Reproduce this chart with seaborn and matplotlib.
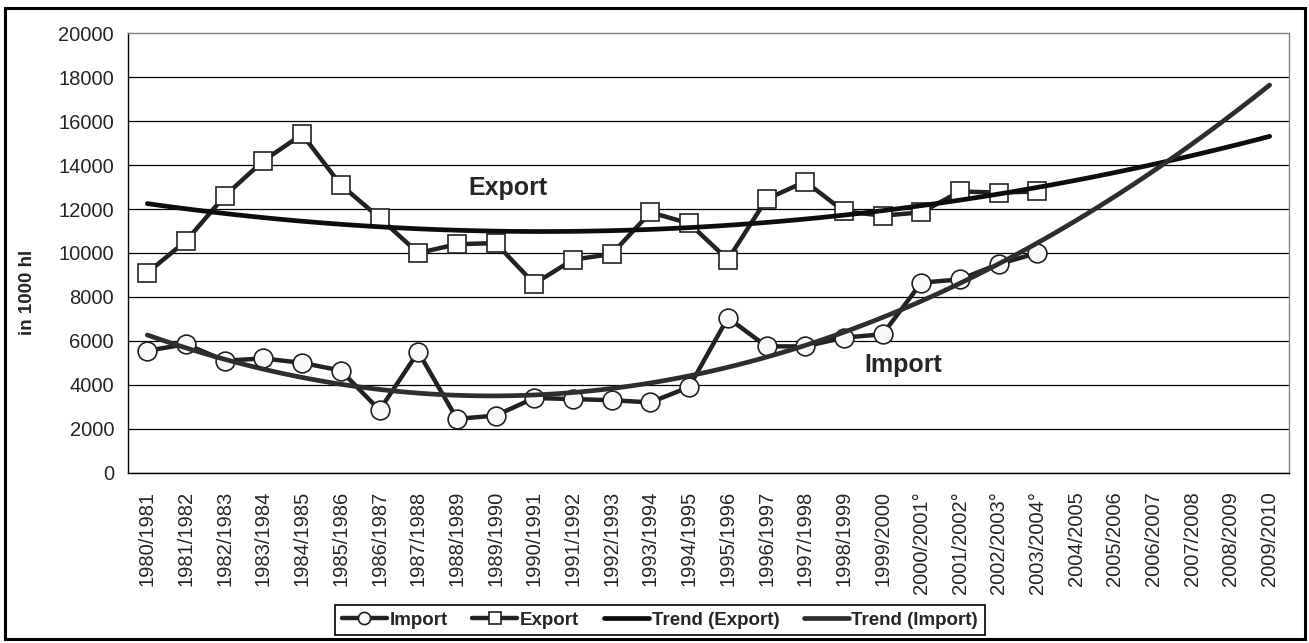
import numpy as np
import pandas as pd
import matplotlib.pyplot as plt
import seaborn as sns
from matplotlib.patches import Rectangle

seasons = ['1980/1981', '1981/1982', '1982/1983', '1983/1984', '1984/1985', '1985/1986',
           '1986/1987', '1987/1988', '1988/1989', '1989/1990', '1990/1991', '1991/1992',
           '1992/1993', '1993/1994', '1994/1995', '1995/1996', '1996/1997', '1997/1998',
           '1998/1999', '1999/2000', '2000/2001°', '2001/2002°', '2002/2003°', '2003/2004°',
           '2004/2005', '2005/2006', '2006/2007', '2007/2008', '2008/2009', '2009/2010']

# in 1000 hl, observed seasons only (1980/1981 - 2003/2004)
import_vals = [5550, 5850, 5100, 5200, 5000, 4650, 2850, 5500, 2450, 2600, 3400, 3350,
               3300, 3200, 3900, 7050, 5750, 5750, 6150, 6300, 8650, 8800, 9500, 10000]
export_vals = [9100, 10550, 12600, 14200, 15400, 13100, 11600, 10000, 10400, 10450, 8600, 9700,
               9950, 11850, 11350, 9700, 12450, 13250, 11900, 11700, 11850, 12800, 12750, 12800]

y_ticks = list(range(0, 20001, 2000))

df = pd.DataFrame({'pos': range(len(import_vals)), 'Import': import_vals, 'Export': export_vals})

sns.set_style('white')
plt.rcParams['font.family'] = ['Liberation Sans', 'DejaVu Sans']

W, H = 1309, 643
fig = plt.figure(figsize=(W / 100, H / 100), dpi=100)
ax = fig.add_axes([128 / W, 1 - 472.7 / H, (1289 - 128) / W, (472.7 - 33.3) / H])

line_col = '#222222'
sns.lineplot(data=df, x='pos', y='Import', ax=ax, color=line_col, linewidth=3.2,
             marker='o', markersize=13.5, markerfacecolor='#f8f8f8',
             markeredgecolor=line_col, markeredgewidth=1.2, label='Import', zorder=3)
sns.lineplot(data=df, x='pos', y='Export', ax=ax, color=line_col, linewidth=3.2,
             marker='s', markersize=13, markerfacecolor='white',
             markeredgecolor=line_col, markeredgewidth=1.2, label='Export', zorder=3)

# polynomial trends (order 2), projected to the last season
ax.set_xlim(0, len(seasons) - 1)
sns.regplot(data=df, x='pos', y='Export', order=2, ci=None, scatter=False, truncate=False,
            ax=ax, color='#0d0d0d', line_kws=dict(lw=3.4, zorder=4), label='Trend (Export)')
sns.regplot(data=df, x='pos', y='Import', order=2, ci=None, scatter=False, truncate=False,
            ax=ax, color='#2e2e2e', line_kws=dict(lw=3.4, zorder=4), label='Trend (Import)')

ax.set_xlim(-0.5, len(seasons) - 0.5)
ax.set_ylim(0, 20000)
ax.set_xlabel('')
ax.set_ylabel('')

ax.set_xticks(range(len(seasons)))
ax.set_xticklabels(seasons, rotation=90, fontsize=14.5)
ax.set_xticks(np.arange(-0.5, len(seasons), 1), minor=True)
ax.tick_params(axis='x', which='major', length=0, pad=13)
ax.tick_params(axis='x', which='minor', length=6, width=1, color='black', direction='out')
ax.set_yticks(y_ticks)
ax.tick_params(axis='y', labelsize=14.5, length=7, width=1, color='black', direction='out', pad=3)

ax.grid(axis='y', color='black', linewidth=0.9)
ax.yaxis.get_gridlines()[-1].set_visible(False)
for side in ['left', 'bottom']:
    ax.spines[side].set_color('black')
    ax.spines[side].set_linewidth(1)
for side in ['top', 'right']:
    ax.spines[side].set_color('#808080')
    ax.spines[side].set_linewidth(1)

ax.text(8.3, 12650, 'Export', fontsize=18, fontweight='bold', ha='left', va='baseline', zorder=5)
ax.text(18.53, 4590, 'Import', fontsize=18, fontweight='bold', ha='left', va='baseline', zorder=5)

fig.text(27 / W, 1 - 292 / H, 'in 1000 hl', rotation=90, fontsize=13.5, fontweight='bold',
         ha='center', va='center')

handles, labels = ax.get_legend_handles_labels()
ax.get_legend().remove()
order = ['Import', 'Export', 'Trend (Export)', 'Trend (Import)']
hmap = dict(zip(labels, handles))
leg = fig.legend([hmap[k] for k in order], order, loc='center',
                 bbox_to_anchor=(660 / W, 1 - 620 / H), ncol=4, frameon=True, fancybox=False,
                 edgecolor='black', framealpha=1, prop=dict(weight='bold', size=13.5),
                 handlelength=2.4, handletextpad=0.15, columnspacing=1.3, borderpad=0.35,
                 markerscale=0.65)
leg.get_frame().set_linewidth(1.2)

fig.patches.append(Rectangle((5 / W, 4 / H), 1300 / W, 631 / H, transform=fig.transFigure,
                             fill=False, linewidth=2.2, edgecolor='black'))

fig.savefig('out.png', dpi=100)
